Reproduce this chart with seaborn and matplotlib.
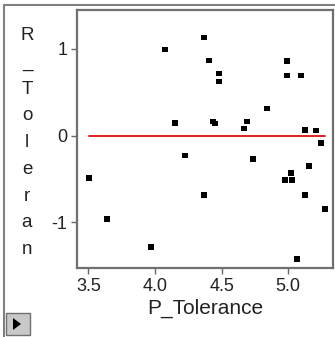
import numpy as np
import pandas as pd
import matplotlib
matplotlib.use('Agg')
import matplotlib.pyplot as plt
import seaborn as sns
from matplotlib.patches import Rectangle, Polygon

# residuals vs P_Tolerance
p_tol = [3.504, 3.639, 3.968, 4.073, 4.150, 4.226, 4.368, 4.368, 4.406, 4.436,
         4.451, 4.481, 4.481, 4.669, 4.692, 4.737, 4.842, 4.977, 4.992, 4.992,
         5.023, 5.030, 5.068, 5.098, 5.128, 5.128, 5.158, 5.211, 5.248, 5.278]
r_tol = [-0.486, -0.960, -1.283, 0.994, 0.150, -0.231, 1.133, -0.682, 0.867, 0.162,
         0.139, 0.717, 0.624, 0.081, 0.162, -0.266, 0.312, -0.509, 0.856, 0.694,
         -0.428, -0.509, -1.422, 0.694, 0.069, -0.682, -0.347, 0.058, -0.081, -0.844]
x_ticks = [3.5, 4.0, 4.5, 5.0]
y_ticks = [-1, 0, 1]

df = pd.DataFrame({'P_Tolerance': p_tol, 'R_Tolerance': r_tol})

sns.set_style('white')
plt.rcParams['font.family'] = ['Liberation Sans', 'DejaVu Sans']

fig = plt.figure(figsize=(3.35, 3.37), dpi=100)
ax = fig.add_axes([0.2299, 0.2047, 0.764, 0.7656])

sns.scatterplot(data=df, x='P_Tolerance', y='R_Tolerance', marker='s', s=18,
                color='black', edgecolor='none', ax=ax, zorder=3)
# zero reference line across the data range
line_df = pd.DataFrame({'x': [df.P_Tolerance.min(), df.P_Tolerance.max()], 'y': [0, 0]})
sns.lineplot(data=line_df, x='x', y='y', color='#e01010', linewidth=1.3, ax=ax, zorder=2)

ax.set_xlim(3.414, 5.336)
ax.set_ylim(-1.53, 1.45)
ax.set_xticks(x_ticks)
ax.set_xticklabels(['3.5', '4.0', '4.5', '5.0'])
ax.set_yticks(y_ticks)
ax.set_yticklabels(['-1', '0', '1'])
ax.tick_params(axis='both', direction='out', length=4, width=1, color='#666666',
               labelsize=13, labelcolor='#222222', pad=3, left=True, bottom=True)
for sp in ax.spines.values():
    sp.set_color('#707070')
    sp.set_linewidth(1.6)

ax.set_xlabel('P_Tolerance', fontsize=15, color='#222222', labelpad=3)
ax.set_ylabel('')
# stacked y label, one letter per line (bottom is clipped in the original)
fig.text(27 / 335, 1 - 27 / 337, '\n'.join('R_Toleran'), fontsize=13.5, color='#222222',
         ha='center', va='top', linespacing=1.75, transform=fig.transFigure)

# outer window frame
fig.add_artist(plt.Line2D([4 / 335, 4 / 335], [0, 1 - 5 / 337], color='#808080',
                          linewidth=1.5, transform=fig.transFigure))
fig.add_artist(plt.Line2D([4 / 335, 1], [1 - 5 / 337, 1 - 5 / 337], color='#808080',
                          linewidth=1.5, transform=fig.transFigure))

# small disclosure button
fig.add_artist(Rectangle((6 / 335, 2 / 337), 24 / 335, 22 / 337, facecolor='#c8c8c8',
                         edgecolor='#707070', linewidth=1, transform=fig.transFigure))
fig.add_artist(Polygon([[13 / 335, 7 / 337], [13 / 335, 19 / 337], [21 / 335, 13 / 337]],
                       closed=True, facecolor='black', edgecolor='none',
                       transform=fig.transFigure))

fig.savefig('out.png', dpi=100)
